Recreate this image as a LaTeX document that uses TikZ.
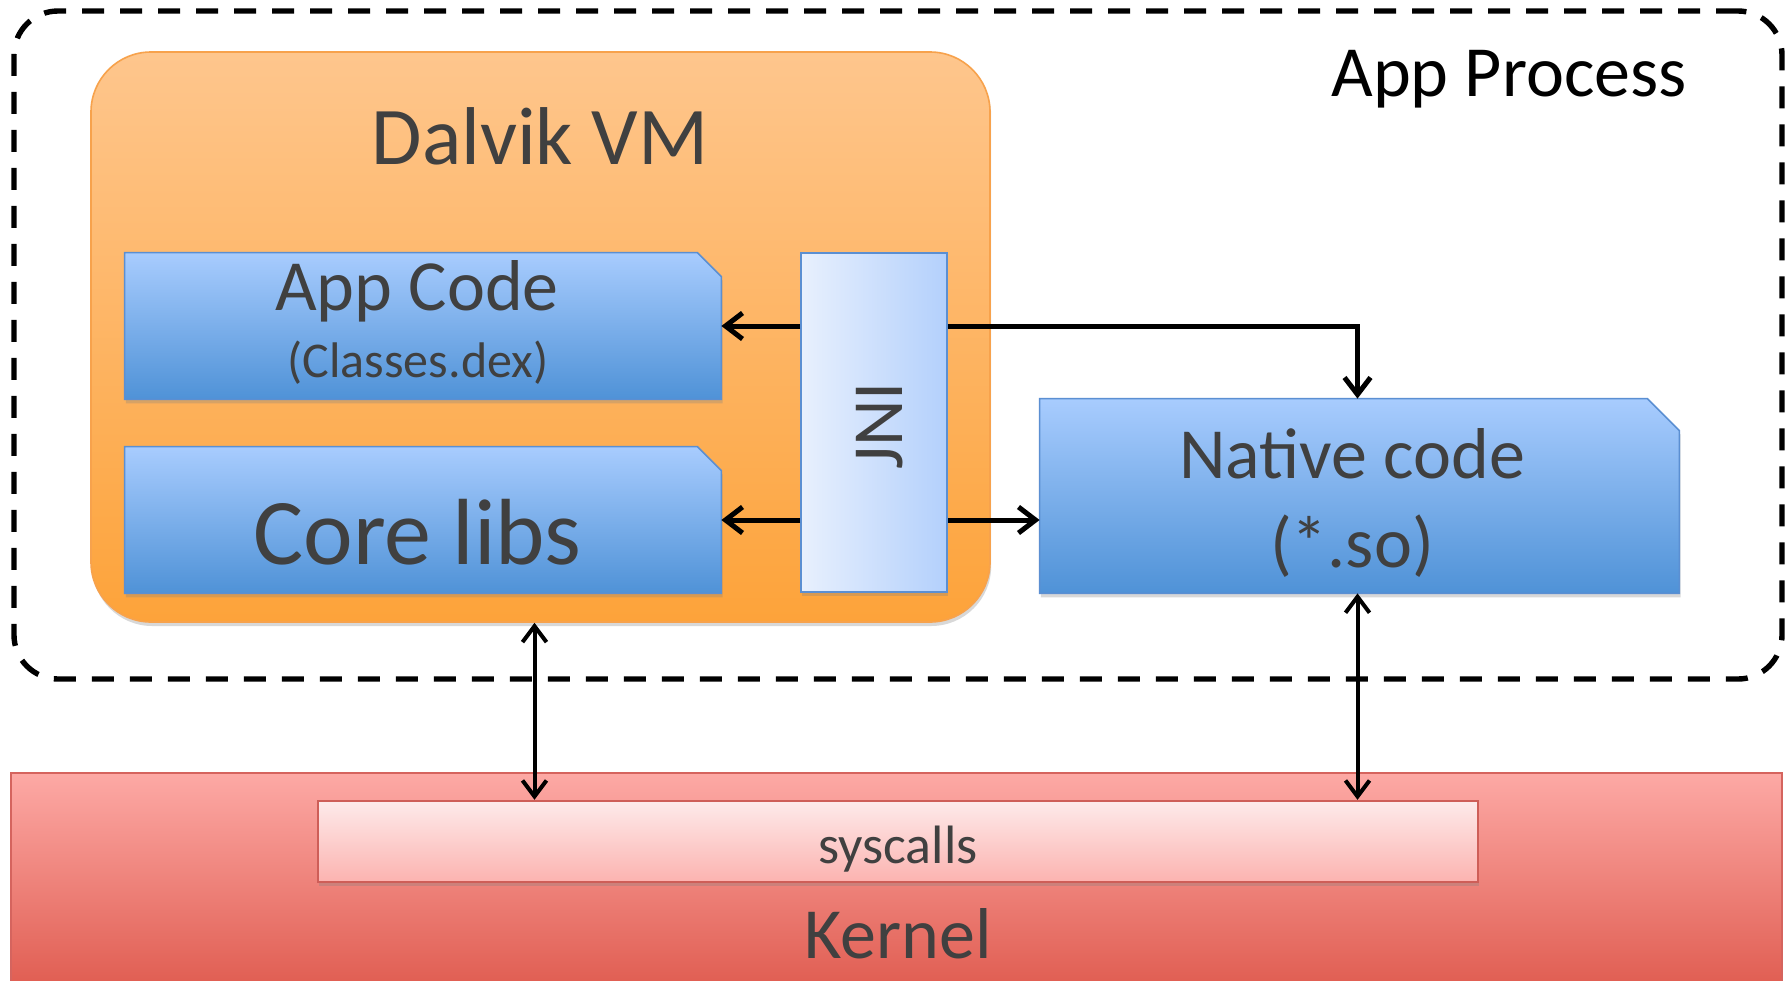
\documentclass[tikz,border=0pt]{standalone}
\usepackage{fontspec}
\setmainfont{Carlito}
\usetikzlibrary{shadows,arrows.meta,calc}
\definecolor{txt}{HTML}{404040}
\definecolor{dtop}{HTML}{FEC68D}
\definecolor{dbot}{HTML}{FDA33A}
\definecolor{dborder}{HTML}{F7A24C}
\definecolor{btop}{HTML}{A8CCFE}
\definecolor{bbot}{HTML}{4F92D7}
\definecolor{bborder}{HTML}{5B8FD2}
\definecolor{jleft}{HTML}{E8F0FD}
\definecolor{jright}{HTML}{B3D0FC}
\definecolor{ktop}{HTML}{FDA9A5}
\definecolor{kbot}{HTML}{DF5B4F}
\definecolor{kborder}{HTML}{D5645E}
\definecolor{stop}{HTML}{FDEAEA}
\definecolor{sbot}{HTML}{FCB3B0}
\definecolor{sborder}{HTML}{CE5E58}
\begin{document}
\begin{tikzpicture}[x=0.5pt,y=-0.5pt,
  lbl/.style={anchor=base, inner sep=0pt, text=txt},
  shad/.style={drop shadow={opacity=0.3, shadow xshift=0.6pt, shadow yshift=-2pt}},
  boxarea/.style={inner sep=0pt, draw=none},
  bluefill/.style={draw=bborder, line width=0.8pt, top color=btop, bottom color=bbot, shad},
  arr/.style={line width=2.5pt, -{Straight Barb[length=8.5pt,width=13pt]}},
  darr/.style={line width=2pt, {Straight Barb[length=8pt,width=12pt]}-{Straight Barb[length=8pt,width=12pt]}}
]
\useasboundingbox (0,0) rectangle (1788,980);
\fill[white] (0,0) rectangle (1788,980);

% App process (dashed)
\node[draw=black, line width=2.7pt, dash pattern=on 11pt off 8pt, rounded corners=22pt,
  minimum width=884pt, minimum height=334pt, inner sep=0pt] (proc) at (898,345) {};
\node[anchor=base, inner sep=0pt, font=\fontsize{36}{40}\selectfont] (proct) at (1509,96) {App Process};

% Kernel
\node[draw=kborder, line width=1pt, top color=ktop, bottom color=kbot, inner sep=0pt,
  minimum width=885.5pt, minimum height=110pt] (kernel) at (896.5,883) {};
\node[draw=sborder, line width=1.2pt, top color=stop, bottom color=sbot, inner sep=0pt,
  minimum width=580pt, minimum height=40.5pt, shad] (sys) at (898,841.5) {};
\node[lbl, font=\fontsize{27}{30}\selectfont] (syst) at (898,863) {syscalls};
\node[lbl, font=\fontsize{36}{40}\selectfont] (kernt) at (898,958) {Kernel};

% Dalvik VM
\node[draw=dborder, line width=0.8pt, top color=dtop, bottom color=dbot, rounded corners=30pt,
  minimum width=449.5pt, minimum height=285pt, inner sep=0pt, shad] (dalvik) at (540.5,337) {};
\node[lbl, font=\fontsize{41}{44}\selectfont] (dalvikt) at (540,164) {Dalvik VM};

% App code / Core libs
\node[boxarea, minimum width=298pt, minimum height=73pt] (app) at (423,326) {};
\path[bluefill] (app.south west) -- (app.north west) -- ([xshift=-12pt]app.north east)
  -- ([yshift=-12pt]app.north east) -- (app.south east) -- cycle;
\node[lbl, font=\fontsize{36}{40}\selectfont] (appt) at (417,310) {App Code};
\node[lbl, font=\fontsize{25}{28}\selectfont] (appd) at (418,377) {(Classes.dex)};

\node[boxarea, minimum width=298pt, minimum height=73pt] (core) at (423,520) {};
\path[bluefill] (core.south west) -- (core.north west) -- ([xshift=-12pt]core.north east)
  -- ([yshift=-12pt]core.north east) -- (core.south east) -- cycle;
\node[lbl, font=\fontsize{47}{50}\selectfont] (coret) at (417.5,564) {Core libs};

% JNI
\node[draw=bborder, line width=0.8pt, left color=jleft, right color=jright, inner sep=0pt,
  minimum width=73pt, minimum height=169.5pt, shad] (jni) at (874,422.5) {};
\node[inner sep=0pt, text=txt, rotate=90, font=\fontsize{36}{40}\selectfont] (jnit) at (880,426) {JNI};

% Native code
\node[boxarea, minimum width=319.5pt, minimum height=97pt] (native) at (1359.5,496) {};
\path[bluefill] (native.south west) -- (native.north west) -- ([xshift=-16pt]native.north east)
  -- ([yshift=-16pt]native.north east) -- (native.south east) -- cycle;
\node[lbl, font=\fontsize{36}{40}\selectfont] (natt) at (1352,478) {Native code};
\node[lbl, font=\fontsize{36}{40}\selectfont] (nats) at (1352,567) {(*.so)};

% Connectors
\draw[arr] (jni.west |- app.east) -- (app.east);
\draw[arr] (jni.west |- core.east) -- (core.east);
\draw[arr] (jni.east |- core.east) -- (native.west |- core.east);
\draw[arr] (jni.east |- app.east) -| ([xshift=-1pt]native.north);
\draw[darr] ([xshift=-3pt]dalvik.south) -- ([xshift=-3pt]dalvik.south |- sys.north);
\draw[darr] ([xshift=-1pt]native.south) -- ([xshift=-1pt]native.south |- sys.north);
\end{tikzpicture}
\end{document}
